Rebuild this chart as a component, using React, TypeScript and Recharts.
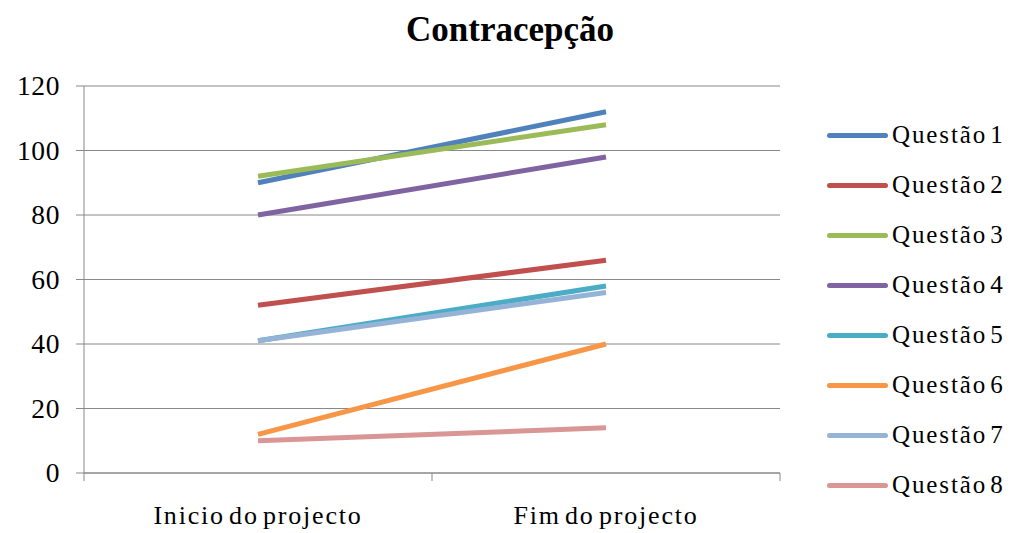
import React from "react";
import { LineChart, Line, XAxis, YAxis, CartesianGrid, Legend } from "recharts";

const categories = ["Inicio do projecto", "Fim do projecto"];
const seriesNames = ["Questão 1", "Questão 2", "Questão 3", "Questão 4", "Questão 5", "Questão 6", "Questão 7", "Questão 8"];
const q1 = [90, 112];
const q2 = [52, 66];
const q3 = [92, 108];
const q4 = [80, 98];
const q5 = [41, 58];
const q6 = [12, 40];
const q7 = [41, 56];
const q8 = [10, 14];
const yTicks = [0, 20, 40, 60, 80, 100, 120];
const colors = ["#4F81BD", "#C0504D", "#9BBB59", "#8064A2", "#4BACC6", "#F79646", "#95B3D7", "#D99694"];

const seriesValues = [q1, q2, q3, q4, q5, q6, q7, q8];
const keys = ["q1", "q2", "q3", "q4", "q5", "q6", "q7", "q8"];

const data = categories.map((c, i) => {
  const row: any = { x: i + 0.5, cat: c };
  keys.forEach((k, j) => {
    row[k] = seriesValues[j][i];
  });
  return row;
});

const FONT = "Liberation Serif";
const GRID = "#888888";

const XTick = (props: any) => {
  const { x, y, payload } = props;
  const v = payload.value;
  if (Number.isInteger(v)) {
    return <line x1={x} x2={x} y1={y} y2={y + 8} stroke={GRID} strokeWidth={1} />;
  }
  const idx = Math.floor(v);
  return (
    <text
      x={x}
      y={y + 51}
      textAnchor="middle"
      style={{ fontFamily: FONT, fontSize: 26, letterSpacing: 1.8, wordSpacing: -4, fill: "#000" }}
    >
      {categories[idx]}
    </text>
  );
};

const YTick = (props: any) => {
  const { x, y, payload } = props;
  return (
    <text x={x} y={y + 9} textAnchor="end" style={{ fontFamily: FONT, fontSize: 27.5, letterSpacing: 0.6, fill: "#000" }}>
      {payload.value}
    </text>
  );
};

const LegendContent = (props: any) => {
  const payload = props.payload || [];
  return (
    <div style={{ fontFamily: FONT }}>
      {payload.map((p: any, i: number) => (
        <div key={i} style={{ height: 50, display: "flex", alignItems: "center" }}>
          <span style={{ display: "inline-block", width: 61, height: 5, borderRadius: 2.5, background: p.color, marginRight: 4 }} />
          <span style={{ fontFamily: FONT, fontSize: 25, letterSpacing: 1.9, wordSpacing: -5, color: "#000", whiteSpace: "nowrap" }}>
            {p.value}
          </span>
        </div>
      ))}
    </div>
  );
};

export default function App() {
  return (
    <div style={{ position: "absolute", left: 0, top: 0, width: 1016, height: 533, background: "#fff", fontFamily: FONT }}>
      <div
        style={{
          position: "absolute",
          left: 0,
          top: 12,
          width: 1016,
          textAlign: "center",
          fontFamily: FONT,
          fontWeight: "bold",
          fontSize: 35,
          lineHeight: "35px",
          color: "#000",
          paddingLeft: 2,
        }}
      >
        Contracepção
      </div>
      <LineChart width={1016} height={533} data={data} margin={{ top: 86, right: 236, bottom: 0, left: 0 }} style={{ fontFamily: FONT }}>
        <CartesianGrid horizontal={true} vertical={false} stroke={GRID} strokeWidth={1} />
        <XAxis
          dataKey="x"
          type="number"
          domain={[0, 2]}
          ticks={[0, 0.5, 1, 1.5, 2]}
          interval={0}
          height={60}
          tickSize={0}
          tickMargin={0}
          tickLine={false}
          axisLine={{ stroke: GRID }}
          tick={<XTick />}
        />
        <YAxis
          domain={[0, 120]}
          ticks={yTicks}
          width={84}
          tickSize={8}
          tickMargin={16}
          axisLine={{ stroke: GRID }}
          tickLine={{ stroke: GRID }}
          tick={<YTick />}
          interval={0}
        />
        <Legend
          layout="vertical"
          align="center"
          verticalAlign="middle"
          wrapperStyle={{ left: 827, top: 110, width: 189, fontFamily: FONT }}
          content={<LegendContent />}
        />
        {keys.map((k, j) => (
          <Line
            key={k}
            dataKey={k}
            name={seriesNames[j]}
            stroke={colors[j]}
            strokeWidth={5}
            dot={false}
            activeDot={false}
            isAnimationActive={false}
            legendType="line"
          />
        ))}
      </LineChart>
    </div>
  );
}
